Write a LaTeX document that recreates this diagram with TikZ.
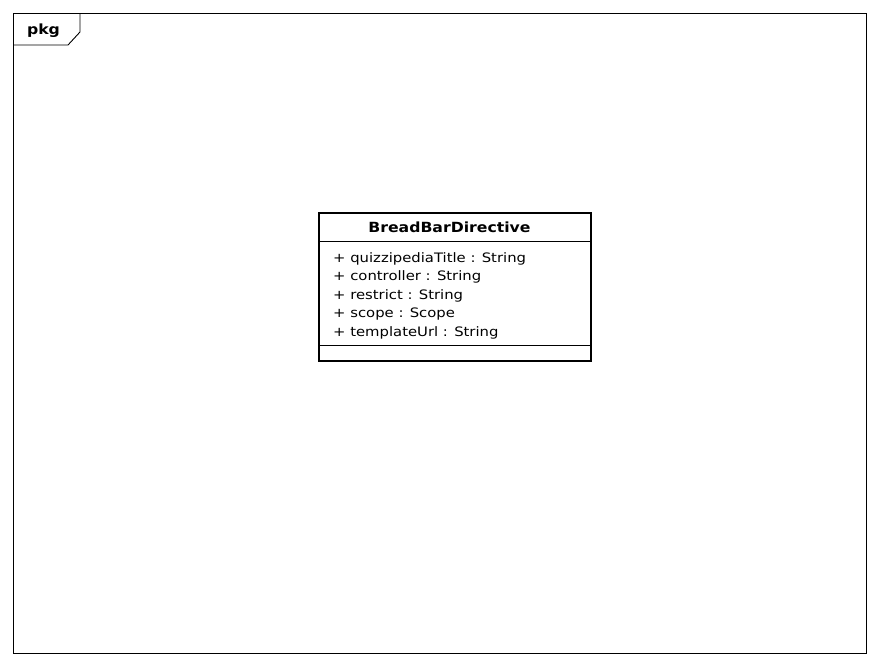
\documentclass[tikz,border=0pt]{standalone}
\usepackage{fontspec}
\setmainfont{DejaVu Sans}
\newfontfamily\attrfont[FakeStretch=1.14]{DejaVu Sans}
\newfontfamily\ttlfont[FakeStretch=1.12]{DejaVu Sans Bold}
\begin{document}
\begin{tikzpicture}[x=1pt,y=-1pt,
  attr/.style={anchor=west,inner sep=0pt,font=\attrfont\fontsize{13}{15}\selectfont},
  ttl/.style={inner sep=0pt,font=\ttlfont\fontsize{14}{16}\selectfont},
  thin/.style={draw=black,line width=0.9pt}]
\useasboundingbox (0,0) rectangle (880,666);
% frame
\draw[thin] (13.5,13.5) rectangle (866,653);
\draw[thin] (13.5,45) -- (68,45) -- (80,32) -- (80,13.5);
\node[ttl] (pkg) at (43.5,30.5) {pkg};
% class
\node[draw=black,line width=2pt,minimum width=272pt,minimum height=148pt,inner sep=0pt,anchor=north west] (cls) at (318,212) {};
\draw[thin] (318,241) -- (590,241);
\draw[thin] (318,345) -- (590,345);
\node[ttl] (title) at (449.5,227.5) {BreadBarDirective};
\node[attr] (a1) at (333,258.5) {+ quizzipediaTitle : String};
\node[attr] (a2) at (333,277) {+ controller : String};
\node[attr] (a3) at (333,295.5) {+ restrict : String};
\node[attr] (a4) at (333,314) {+ scope : Scope};
\node[attr] (a5) at (333,332.5) {+ templateUrl : String};
\end{tikzpicture}
\end{document}
